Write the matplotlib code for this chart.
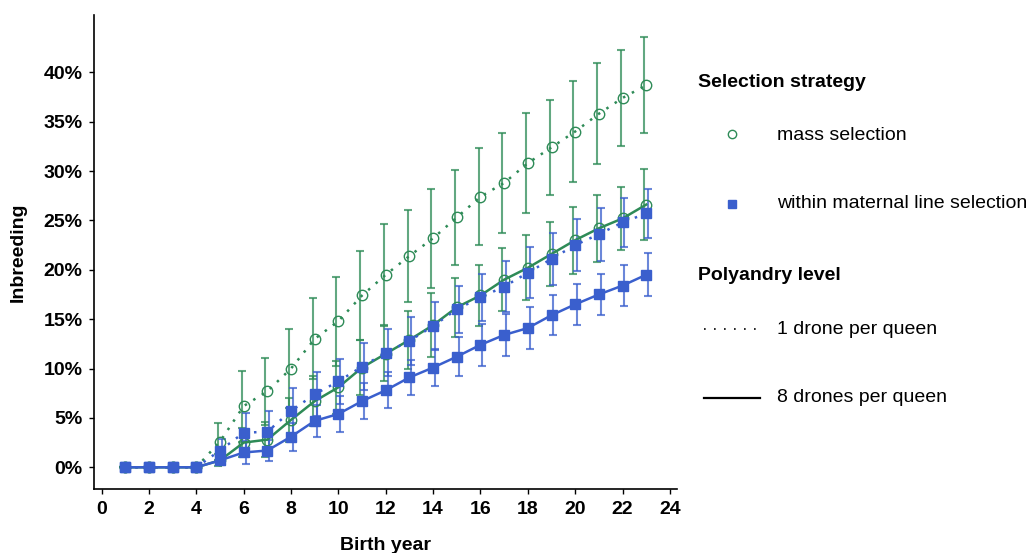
import matplotlib
matplotlib.use("Agg")
import matplotlib.pyplot as plt
from matplotlib.lines import Line2D
from matplotlib.ticker import FuncFormatter
import numpy as np

plt.rcParams['font.family'] = ['Liberation Sans', 'DejaVu Sans']

years = list(range(1, 24))
# inbreeding in percent
mass_1 = [0, 0, 0, 0, 2.6, 6.2, 7.7, 10.0, 13.0, 14.8, 17.4, 19.5, 21.4, 23.2, 25.3, 27.4, 28.8, 30.8, 32.4, 34.0, 35.8, 37.4, 38.7]
mass_1_sd = [0, 0, 0, 0, 1.9, 3.6, 3.4, 4.0, 4.1, 4.5, 4.5, 5.1, 4.7, 5.0, 4.8, 4.9, 5.1, 5.1, 4.8, 5.1, 5.1, 4.9, 4.9]
mass_8 = [0, 0, 0, 0, 0.7, 2.5, 2.8, 4.8, 6.7, 8.1, 10.1, 11.5, 12.9, 14.4, 16.2, 17.4, 19.0, 20.2, 21.6, 23.0, 24.2, 25.2, 26.6]
mass_8_sd = [0, 0, 0, 0, 0.6, 1.5, 1.8, 2.2, 2.5, 2.7, 2.8, 2.8, 2.9, 3.2, 3.0, 3.1, 3.2, 3.3, 3.2, 3.4, 3.4, 3.2, 3.6]
within_1 = [0, 0, 0, 0, 1.7, 3.5, 3.6, 5.7, 7.4, 8.7, 10.2, 11.6, 12.8, 14.3, 16.0, 17.2, 18.3, 19.7, 21.1, 22.5, 23.6, 24.8, 25.7]
within_1_sd = [0, 0, 0, 0, 1.2, 2.0, 2.1, 2.3, 2.2, 2.3, 2.4, 2.4, 2.4, 2.4, 2.4, 2.4, 2.6, 2.6, 2.6, 2.6, 2.7, 2.5, 2.5]
within_8 = [0, 0, 0, 0, 0.7, 1.5, 1.7, 3.1, 4.7, 5.4, 6.7, 7.8, 9.1, 10.1, 11.2, 12.4, 13.4, 14.1, 15.4, 16.5, 17.5, 18.4, 19.5]
within_8_sd = [0, 0, 0, 0, 0.5, 1.2, 1.1, 1.4, 1.6, 1.8, 1.8, 1.8, 1.8, 1.9, 2.0, 2.1, 2.1, 2.1, 2.0, 2.1, 2.1, 2.1, 2.2]

green = '#2e8b57'
blue = '#3a5fcd'
dotted = (0, (1, 3))
fs = 14

fig = plt.figure(figsize=(10.28, 5.53), dpi=100)
ax = fig.add_axes([0.0919, 0.1157, 0.5667, 0.8572])

x = np.array(years)
series = [
    (mass_1, mass_1_sd, green, 'o', dotted, -0.08),
    (mass_8, mass_8_sd, green, 'o', '-', -0.08),
    (within_1, within_1_sd, blue, 's', dotted, 0.08),
    (within_8, within_8_sd, blue, 's', '-', 0.08),
]
for vals, sd, col, mk, ls, dx in series:
    ax.errorbar(x + dx, vals, yerr=sd, fmt='none', ecolor=col, elinewidth=1.5,
                capsize=3, capthick=1.5, alpha=0.75, zorder=2)
for vals, sd, col, mk, ls, dx in series:
    if mk == 'o':
        ax.plot(x, vals, color=col, linestyle=ls, linewidth=1.8, marker='o',
                markersize=7.5, markerfacecolor='none', markeredgecolor=col,
                markeredgewidth=1.0, zorder=3)
    else:
        ax.plot(x, vals, color=col, linestyle=ls, linewidth=1.8, marker='s',
                markersize=7, markerfacecolor=col, markeredgecolor=col, zorder=4)

ax.set_xlim(-0.3, 24.3)
ax.set_ylim(-2.2, 45.8)
ax.set_xticks(range(0, 25, 2))
ax.set_yticks(range(0, 41, 5))
ax.yaxis.set_major_formatter(FuncFormatter(lambda v, p: '%d%%' % v))
for sp in ['top', 'right']:
    ax.spines[sp].set_visible(False)
for sp in ['left', 'bottom']:
    ax.spines[sp].set_linewidth(1.2)
ax.tick_params(direction='out', length=3.5, width=1.0, labelsize=fs, pad=5)
for lab in ax.get_xticklabels() + ax.get_yticklabels():
    lab.set_fontweight('bold')
ax.set_xlabel('Birth year', fontsize=fs, fontweight='bold', labelpad=14)
ax.set_ylabel('Inbreeding', fontsize=fs, fontweight='bold', labelpad=12)

# legend drawn by hand in figure pixels
W, H = 1028.0, 553.0
def fx(px):
    return px / W
def fy(py):
    return 1 - py / H

fig.text(fx(698), fy(82), 'Selection strategy', fontsize=fs, fontweight='bold', va='center')
fig.add_artist(Line2D([fx(732)], [fy(134)], marker='o', markersize=6, markerfacecolor='none',
                      markeredgecolor=green, markeredgewidth=1.0, linestyle='none'))
fig.text(fx(777), fy(135), 'mass selection', fontsize=fs, va='center')
fig.add_artist(Line2D([fx(732)], [fy(204)], marker='s', markersize=6, markerfacecolor=blue,
                      markeredgecolor=blue, linestyle='none'))
fig.text(fx(777), fy(204), 'within maternal line selection', fontsize=fs, va='center')
fig.text(fx(698), fy(276), 'Polyandry level', fontsize=fs, fontweight='bold', va='center')
fig.add_artist(Line2D([fx(704), fx(759)], [fy(329), fy(329)], color='black',
                      linestyle=(0, (1, 5)), linewidth=1.2))
fig.text(fx(777), fy(329), '1 drone per queen', fontsize=fs, va='center')
fig.add_artist(Line2D([fx(704), fx(760)], [fy(398), fy(398)], color='black', linestyle='-', linewidth=1.6))
fig.text(fx(777), fy(398), '8 drones per queen', fontsize=fs, va='center')

fig.savefig('out.png', dpi=100)
